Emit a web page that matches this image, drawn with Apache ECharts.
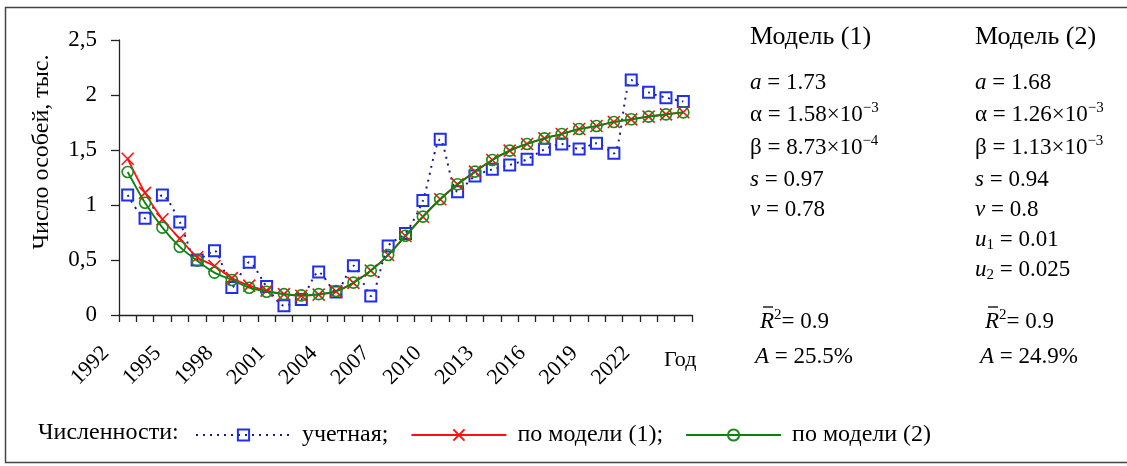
<!DOCTYPE html>
<html>
<head>
<meta charset="utf-8">
<script src="https://cdn.jsdelivr.net/npm/echarts@6/dist/echarts.min.js"></script>
<style>
  html, body { margin: 0; padding: 0; background: #fff; }
  #chart { width: 1127px; height: 466px; }
</style>
</head>
<body>
<div id="chart"></div>
<script>
// Years of observation
const years = [
  '1992','1993','1994','1995','1996','1997','1998','1999','2000','2001','2002',
  '2003','2004','2005','2006','2007','2008','2009','2010','2011','2012','2013',
  '2014','2015','2016','2017','2018','2019','2020','2021','2022','2023','2024'
];
// Years shown under the axis
const yearTicks = ['1992','1995','1998','2001','2004','2007','2010','2013','2016','2019','2022'];

// Recorded population, thousands
const observed = [
  1.09, 0.88, 1.09, 0.845, 0.50, 0.585, 0.25, 0.48, 0.258, 0.085, 0.14,
  0.39, 0.21, 0.448, 0.173, 0.627, 0.742, 1.04, 1.597, 1.12, 1.264, 1.324,
  1.364, 1.415, 1.506, 1.555, 1.509, 1.561, 1.47, 2.136, 2.024, 1.976, 1.94
];
// Model (1)
const model1 = [
  1.42, 1.11, 0.87, 0.695, 0.525, 0.445, 0.335, 0.267, 0.221, 0.19, 0.175,
  0.185, 0.215, 0.292, 0.403, 0.545, 0.718, 0.893, 1.052, 1.188, 1.303, 1.409,
  1.494, 1.555, 1.606, 1.645, 1.691, 1.718, 1.755, 1.779, 1.803, 1.824, 1.843
];
// Model (2)
const model2 = [
  1.30, 1.02, 0.794, 0.62, 0.494, 0.385, 0.318, 0.248, 0.212, 0.19, 0.178,
  0.19, 0.218, 0.294, 0.403, 0.545, 0.721, 0.894, 1.052, 1.188, 1.303, 1.409,
  1.494, 1.555, 1.606, 1.645, 1.691, 1.718, 1.755, 1.779, 1.803, 1.824, 1.842
];

// Parameter tables
const model1Title = 'Модель (1)';
const model2Title = 'Модель (2)';
const model1Params = [
  '{i|a} = 1.73',
  'α = 1.58×10{sup|−3}',
  'β = 8.73×10{sup|−4}',
  '{i|s} = 0.97',
  '{i|v} = 0.78'
];
const model2Params = [
  '{i|a} = 1.68',
  'α = 1.26×10{sup|−3}',
  'β = 1.13×10{sup|−3}',
  '{i|s} = 0.94',
  '{i|v} = 0.8',
  '{i|u}{sub|1} = 0.01',
  '{i|u}{sub|2} = 0.025'
];
const model1Fit = ['0.9', '25.5%'];
const model2Fit = ['0.9', '24.9%'];

const yTitle = 'Число особей, тыс.';
const xTitle = 'Год';
const legendTitle = 'Численности:';

const FONT = "'Liberation Serif', 'Times New Roman', serif";
const TXT = 23;

const rich = {
  i: { fontFamily: FONT, fontSize: TXT, fontStyle: 'italic', fill: '#000' },
  sup: { fontFamily: FONT, fontSize: 15, padding: [0, 0, 13, 0], fill: '#000' },
  sub: { fontFamily: FONT, fontSize: 15, padding: [11, 0, 0, 0], fill: '#000' }
};

function textEl(x, y, text, size) {
  return {
    type: 'text',
    x: x, y: y,
    style: {
      text: text,
      fontFamily: FONT,
      fontSize: size || TXT,
      fill: '#000',
      align: 'left',
      verticalAlign: 'middle',
      rich: rich
    }
  };
}

function paramBlock(x, title, params, fit) {
  const els = [textEl(x, 37, title, 26)];
  const rows = [83, 115, 148, 180, 210, 240, 270];
  params.forEach((p, k) => els.push(textEl(x, rows[k], p)));
  // adjusted R squared with a bar over R
  els.push(textEl(x + 10, 322, '{i|R}{sup|2}= ' + fit[0]));
  els.push({
    type: 'line',
    shape: { x1: x + 13, y1: 307, x2: x + 23, y2: 307 },
    style: { stroke: '#000', lineWidth: 1.3 }
  });
  els.push(textEl(x + 5, 357, '{i|A} = ' + fit[1]));
  return els;
}

const chart = echarts.init(document.getElementById('chart'));

const option = {
  backgroundColor: '#fff',
  animation: false,
  textStyle: { fontFamily: FONT, color: '#000' },
  grid: [
    { left: 119, top: 40, width: 573, height: 275 },
    { left: 97, top: 40, width: 573, height: 275 }
  ],
  xAxis: [
    {
      type: 'category',
      gridIndex: 0,
      data: years,
      boundaryGap: true,
      axisLine: { lineStyle: { color: '#222', width: 1.3 } },
      axisTick: { show: true, interval: 0, length: 7, inside: false, lineStyle: { color: '#222', width: 1.3 } },
      axisLabel: { show: false },
      splitLine: { show: false }
    },
    {
      type: 'category',
      gridIndex: 1,
      data: years,
      boundaryGap: true,
      axisLine: { show: false },
      axisTick: { show: false },
      splitLine: { show: false },
      axisLabel: {
        interval: (idx, value) => yearTicks.indexOf(value) >= 0,
        rotate: 45,
        margin: 35,
        fontFamily: FONT,
        fontSize: 22,
        color: '#000'
      }
    }
  ],
  yAxis: [
    {
      type: 'value',
      gridIndex: 0,
      min: 0, max: 2.5, interval: 0.5,
      axisLine: { show: true, lineStyle: { color: '#222', width: 1.3 } },
      axisTick: { show: true, length: 8, lineStyle: { color: '#222', width: 1.3 } },
      axisLabel: {
        margin: 22,
        fontFamily: FONT,
        fontSize: 23,
        color: '#000',
        formatter: v => String(v).replace('.', ',')
      },
      splitLine: { show: false }
    },
    { type: 'value', gridIndex: 1, show: false, min: 0, max: 2.5 }
  ],
  legend: {
    left: 190,
    top: 418,
    itemWidth: 95,
    itemHeight: 14,
    itemGap: 22,
    padding: 5,
    textStyle: { fontFamily: FONT, fontSize: 24, color: '#000', padding: [0, 0, 0, 6] },
    formatter: name => (name === 'по модели (2)' ? name : name + ';'),
    data: ['учетная', 'по модели (1)', 'по модели (2)']
  },
  series: [
    {
      name: 'учетная',
      type: 'line',
      xAxisIndex: 0, yAxisIndex: 0,
      data: observed,
      smooth: 0.25,
      showAllSymbol: true,
      symbol: 'rect',
      symbolSize: 11,
      lineStyle: { color: '#1a1a90', width: 2, type: [2, 5] },
      itemStyle: { color: 'rgba(255,255,255,0)', borderColor: '#1f2ff0', borderWidth: 2 },
      z: 2
    },
    {
      name: 'по модели (1)',
      type: 'line',
      xAxisIndex: 0, yAxisIndex: 0,
      data: model1,
      smooth: 0.25,
      showAllSymbol: true,
      symbol: 'path://M0,0L10,10M10,0L0,10',
      symbolSize: 12,
      lineStyle: { color: '#ff1010', width: 1.8 },
      itemStyle: { color: '#ff1010', borderColor: '#ff1010', borderWidth: 1.6 },
      z: 3
    },
    {
      name: 'по модели (2)',
      type: 'line',
      xAxisIndex: 0, yAxisIndex: 0,
      data: model2,
      smooth: 0.25,
      showAllSymbol: true,
      symbol: 'circle',
      symbolSize: 11,
      lineStyle: { color: '#0c800c', width: 1.8 },
      itemStyle: { color: 'rgba(255,255,255,0)', borderColor: '#1a8a1a', borderWidth: 1.6 },
      z: 4
    }
  ],
  graphic: [
    {
      type: 'rect',
      shape: { x: 5.5, y: 7.5, width: 1130, height: 455 },
      style: { fill: 'none', stroke: '#444', lineWidth: 1.5 },
      silent: true
    },
    {
      type: 'text',
      x: 42, y: 152,
      rotation: Math.PI / 2,
      style: {
        text: yTitle,
        fontFamily: FONT,
        fontSize: 24,
        fill: '#000',
        align: 'center',
        verticalAlign: 'middle'
      }
    },
    textEl(664, 360, xTitle, 22),
    textEl(38, 433, legendTitle, 24),
    ...paramBlock(750, model1Title, model1Params, model1Fit),
    ...paramBlock(975, model2Title, model2Params, model2Fit)
  ]
};

chart.setOption(option);
</script>
</body>
</html>
